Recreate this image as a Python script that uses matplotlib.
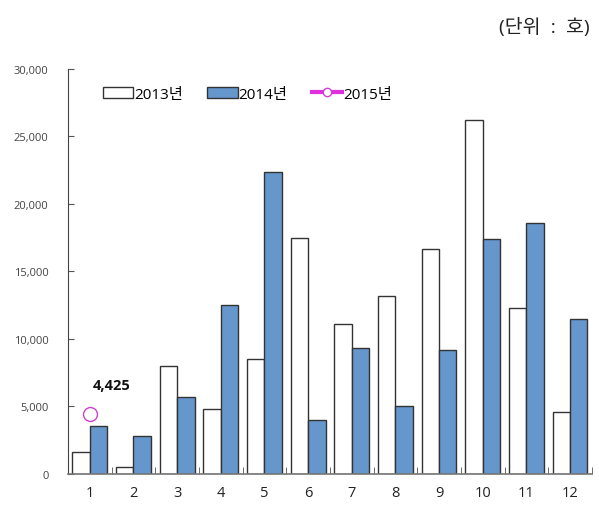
import matplotlib
matplotlib.use("Agg")
import matplotlib.pyplot as plt
from matplotlib.ticker import FuncFormatter, MultipleLocator
import numpy as np

plt.rcParams['font.family'] = ['Open Sans', 'Noto Sans CJK KR', 'DejaVu Sans']

# data
months = ["1", "2", "3", "4", "5", "6", "7", "8", "9", "10", "11", "12"]
y2013 = [1600, 500, 8000, 4800, 8500, 17500, 11100, 13200, 16700, 26200, 12300, 4600]
y2014 = [3550, 2800, 5700, 12500, 22400, 4000, 9300, 5000, 9150, 17400, 18600, 11500]
y2015 = [4425]
labels = ["2013년", "2014년", "2015년"]

fig = plt.figure(figsize=(5.99, 5.06), dpi=100)
ax = fig.add_axes([0.1135, 0.0613, 0.8745, 0.8004])

x = np.arange(len(months))
w = 0.4
b1 = ax.bar(x - w / 2, y2013, w, color="white", edgecolor="#333333", linewidth=1.0, label=labels[0])
b2 = ax.bar(x + w / 2, y2014, w, color="#6596CC", edgecolor="#333333", linewidth=1.0, label=labels[1])
l3, = ax.plot(x[:len(y2015)], y2015, color="#E030E0", linewidth=3, marker="o", markersize=10,
              markerfacecolor="white", markeredgecolor="#D040D0", markeredgewidth=1.0,
              label=labels[2])

ax.annotate("4,425", (x[0], y2015[0]), xytext=(16, 21), textcoords="offset points",
            ha="center", va="center", fontsize=10.5, fontweight="bold", color="#111111")

ax.set_xlim(-0.5, 11.5)
ax.set_ylim(0, 30000)
ax.set_xticks(x)
ax.set_xticklabels(months, fontsize=10.5, color="#222222")
ax.set_xticks(np.arange(-0.5, 12, 1), minor=True)
ax.tick_params(axis="x", which="major", length=0, pad=8)
ax.tick_params(axis="x", which="minor", direction="in", length=5, color="#555555")
ax.yaxis.set_major_locator(MultipleLocator(5000))
ax.yaxis.set_major_formatter(FuncFormatter(lambda v, p: f"{int(v):,}"))
ax.tick_params(axis="y", direction="in", length=4, color="#555555", labelsize=8,
               labelcolor="#444444", pad=14)

for s in ["top", "right"]:
    ax.spines[s].set_visible(False)
ax.spines["left"].set_color("#444444")
ax.spines["bottom"].set_color("#777777")
ax.spines["bottom"].set_linewidth(1.2)

ax.legend([b1, b2, l3], labels, loc="upper left", bbox_to_anchor=(0.04, 0.99), ncol=3,
          frameon=False, fontsize=11, handlelength=2.0, handleheight=0.8,
          handletextpad=0.05, columnspacing=1.6, markerscale=0.6)

fig.text(0.985, 0.945, "(단위  :  호)", ha="right", va="center", fontsize=14, color="#222222")

fig.savefig("out.png", dpi=100)
